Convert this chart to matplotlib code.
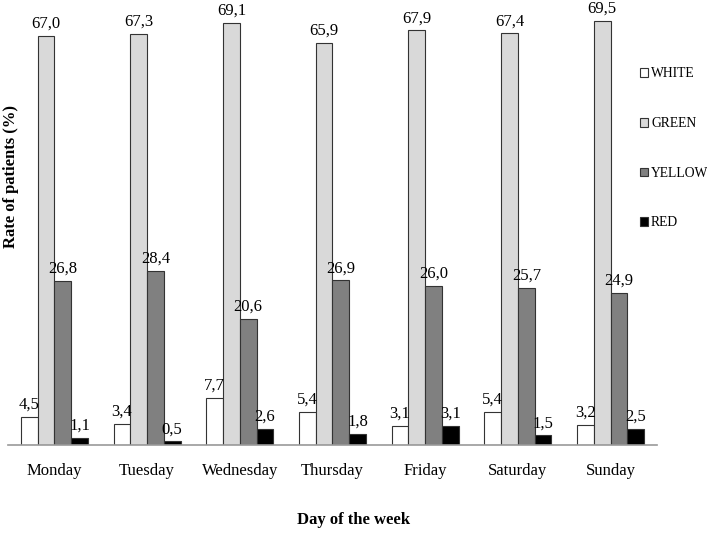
import numpy as np
import matplotlib.pyplot as plt

plt.rcParams['font.family'] = ['Liberation Serif', 'DejaVu Serif']

days = ['Monday', 'Tuesday', 'Wednesday', 'Thursday', 'Friday', 'Saturday', 'Sunday']
categories = ['WHITE', 'GREEN', 'YELLOW', 'RED']
white = [4.5, 3.4, 7.7, 5.4, 3.1, 5.4, 3.2]
green = [67.0, 67.3, 69.1, 65.9, 67.9, 67.4, 69.5]
yellow = [26.8, 28.4, 20.6, 26.9, 26.0, 25.7, 24.9]
red = [1.1, 0.5, 2.6, 1.8, 3.1, 1.5, 2.5]

series = [white, green, yellow, red]
colors = ['white', '#d9d9d9', '#808080', 'black']

fig = plt.figure(figsize=(7.07, 5.35), dpi=100)
ax = fig.add_axes([8 / 707, 90.5 / 535, 649 / 707, 427 / 535])

x = np.arange(len(days))
w = 0.181
for i, (vals, col) in enumerate(zip(series, colors)):
    pos = x + (i - 1.5) * w
    bars = ax.bar(pos, vals, w, color=col, edgecolor='#333333', linewidth=0.8,
                  label=categories[i])
    for b, v in zip(bars, vals):
        ax.annotate(f'{v:.1f}'.replace('.', ','), (b.get_x() + w / 2, v),
                    xytext=(0, 3), textcoords='offset points',
                    ha='center', va='bottom', fontsize=12, annotation_clip=False)

ax.set_xlim(-0.5, 6.5)
ax.set_ylim(0, 70)
ax.set_xticks(x)
ax.set_xticklabels(days, fontsize=12)
ax.tick_params(axis='x', length=0, pad=13)
ax.set_yticks([])
for s in ['top', 'right', 'left']:
    ax.spines[s].set_visible(False)
ax.spines['bottom'].set_color('#999999')
ax.spines['bottom'].set_linewidth(1.2)

fig.text(0.5, 15 / 535, 'Day of the week', ha='center', va='center',
         fontsize=12, fontweight='bold')
fig.text(11 / 707, 1 - 177 / 535, 'Rate of patients (%)', ha='center', va='center',
         rotation=90, fontsize=12, fontweight='bold')

leg = fig.legend(loc='upper left', bbox_to_anchor=(628 / 707, 1 - 55 / 535),
                 frameon=False, fontsize=9.8, labelspacing=2.7,
                 handlelength=0.6, handleheight=0.6, handletextpad=0.2)

fig.savefig('out.png', dpi=100)
